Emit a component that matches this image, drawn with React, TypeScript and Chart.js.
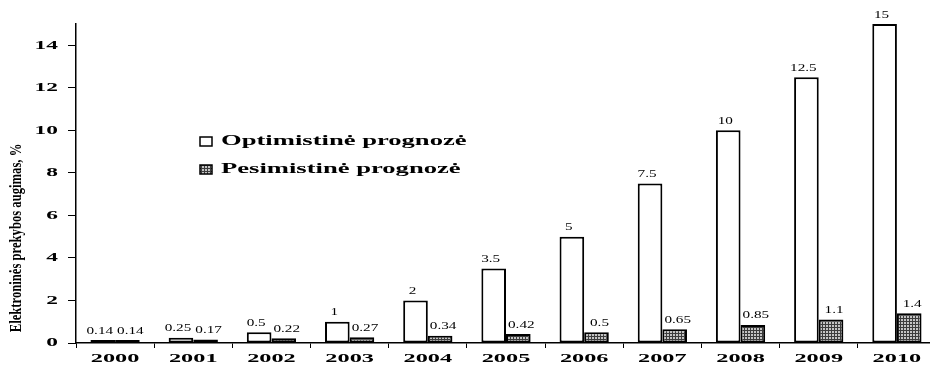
import React, { useEffect, useRef } from "react";
import { Chart, registerables } from "chart.js";

Chart.register(...registerables);

const years = ["2000", "2001", "2002", "2003", "2004", "2005", "2006", "2007", "2008", "2009", "2010"];
const optimistic = [0.14, 0.25, 0.5, 1, 2, 3.5, 5, 7.5, 10, 12.5, 15];
const pessimistic = [0.14, 0.17, 0.22, 0.27, 0.34, 0.42, 0.5, 0.65, 0.85, 1.1, 1.4];
const yTicks = [0, 2, 4, 6, 8, 10, 12, 14];
const seriesNames = ["Optimistinė prognozė", "Pesimistinė prognozė"];
const yTitle = "Elektroninės prekybos augimas, %";

const FAMILY = '"Liberation Serif", "Times New Roman", serif';
const SX = 1.8;

function drawStretched(
  ctx: CanvasRenderingContext2D,
  text: string,
  x: number,
  y: number,
  font: string,
  sx: number,
  align: CanvasTextAlign
) {
  ctx.save();
  ctx.font = font;
  ctx.fillStyle = "#000";
  ctx.textBaseline = "middle";
  ctx.textAlign = align;
  ctx.translate(x, y);
  ctx.scale(sx, 1);
  ctx.fillText(text, 0, 0);
  ctx.restore();
}

function makePattern(): CanvasPattern | string {
  const c = document.createElement("canvas");
  c.width = 3;
  c.height = 3;
  const g = c.getContext("2d");
  if (!g) return "#777";
  g.fillStyle = "#3c3c3c";
  g.fillRect(0, 0, 3, 3);
  g.fillStyle = "#c4c4c4";
  g.fillRect(1, 1, 2, 2);
  const p = g.createPattern(c, "repeat");
  return p || "#777";
}

export default function App() {
  const ref = useRef<HTMLCanvasElement | null>(null);

  useEffect(() => {
    if (!ref.current) return;
    const pattern = makePattern();

    const textPlugin = {
      id: "customText",
      afterDraw(chart: any) {
        const ctx: CanvasRenderingContext2D = chart.ctx;
        const xs = chart.scales.x;
        const ys = chart.scales.y;
        yTicks.forEach((v) => {
          drawStretched(ctx, String(v), 58, ys.getPixelForValue(v), `bold 13px ${FAMILY}`, SX, "right");
        });
        years.forEach((yr, i) => {
          drawStretched(ctx, yr, xs.getPixelForValue(i), 359, `bold 13.5px ${FAMILY}`, SX, "center");
        });
        chart.data.datasets.forEach((ds: any, di: number) => {
          const meta = chart.getDatasetMeta(di);
          meta.data.forEach((bar: any, i: number) => {
            const dx = di === 0 ? -3 : 3;
            drawStretched(ctx, String(ds.data[i]), bar.x + dx, bar.y - 9, `9.5px ${FAMILY}`, 1.6, "center");
          });
        });
        const rows = [141, 169];
        rows.forEach((cy, i) => {
          ctx.save();
          ctx.fillStyle = i === 0 ? "#fff" : (pattern as any);
          ctx.fillRect(200, cy - 4, 12, 9);
          ctx.strokeStyle = "#000";
          ctx.lineWidth = 1.5;
          ctx.strokeRect(200, cy - 4, 12, 9);
          ctx.restore();
          drawStretched(ctx, seriesNames[i], 221, cy, `bold 14px ${FAMILY}`, 1.9, "left");
        });
        ctx.save();
        ctx.translate(16, 238);
        ctx.rotate(-Math.PI / 2);
        ctx.scale(1.15, 1.6);
        ctx.font = `bold 11px ${FAMILY}`;
        ctx.fillStyle = "#000";
        ctx.textAlign = "center";
        ctx.textBaseline = "middle";
        ctx.fillText(yTitle, 0, 0);
        ctx.restore();
      },
    };

    const chart = new Chart(ref.current, {
      type: "bar",
      data: {
        labels: years,
        datasets: [
          {
            label: seriesNames[0],
            data: optimistic,
            backgroundColor: "#ffffff",
            borderColor: "#000000",
            borderWidth: 2,
            borderSkipped: false,
            categoryPercentage: 0.63,
            barPercentage: 1.0,
          },
          {
            label: seriesNames[1],
            data: pessimistic,
            backgroundColor: pattern as any,
            borderColor: "#000000",
            borderWidth: 2,
            borderSkipped: false,
            categoryPercentage: 0.63,
            barPercentage: 1.0,
          },
        ],
      },
      options: {
        responsive: false,
        animation: false,
        events: [],
        layout: { padding: { left: 68, right: 0, top: 24, bottom: 19 } },
        plugins: {
          legend: { display: false },
          tooltip: { enabled: false },
          title: { display: false },
        },
        scales: {
          x: {
            grid: {
              display: true,
              drawOnChartArea: false,
              drawTicks: true,
              tickLength: 5,
              color: "#000",
              offset: true,
            },
            border: { display: true, color: "#000", width: 1.5 },
            ticks: { display: false },
          },
          y: {
            min: 0,
            max: 15,
            afterBuildTicks: (axis: any) => {
              axis.ticks = yTicks.map((v) => ({ value: v }));
            },
            grid: {
              display: true,
              drawOnChartArea: false,
              drawTicks: true,
              tickLength: 8,
              color: "#000",
            },
            border: { display: true, color: "#000", width: 1.5 },
            ticks: { display: false },
          },
        },
      },
      plugins: [textPlugin],
    } as any);

    return () => chart.destroy();
  }, []);

  return (
    <div style={{ position: "fixed", left: 0, top: 0, width: 930, height: 367, overflow: "hidden", background: "#fff" }}>
      <canvas ref={ref} width={936} height={367} style={{ display: "block" }} />
    </div>
  );
}
